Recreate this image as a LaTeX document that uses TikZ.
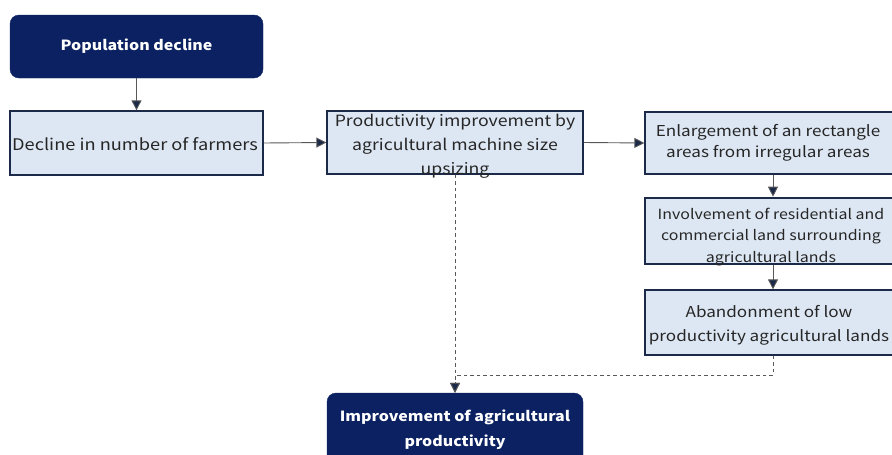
\documentclass[tikz,border=0pt]{standalone}
\usepackage{fontspec}
\setmainfont{Noto Sans CJK JP}[FakeStretch=1.14]
\usetikzlibrary{arrows.meta}
\definecolor{navy}{HTML}{0B2161}
\definecolor{lightfill}{HTML}{DDE7F3}
\definecolor{edge}{HTML}{1B2A48}
\tikzset{
  darkbox/.style={draw=navy,fill=navy,rounded corners=9pt,text=white,font=\fontsize{14}{25}\selectfont\bfseries,align=center,inner sep=0pt},
  lightbox/.style={draw=edge,fill=lightfill,line width=1.3pt,inner sep=0pt},
  txt/.style={text=black!85,align=center,inner sep=0pt,font=\fontsize{15.5}{24}\selectfont},
  conn/.style={draw=black!65,line width=0.9pt,-{Triangle[length=10pt,width=10pt,fill=edge]}},
  dconn/.style={conn,dashed,dash pattern=on 3.5pt off 3pt}
}
\begin{document}
\begin{tikzpicture}[x=1pt,y=-1pt]
\useasboundingbox[fill=white] (0,0) rectangle (892,455);
% boxes
\node[darkbox,minimum width=253,minimum height=63] (pop) at (136.5,46.5) {Population decline};
\node[lightbox,minimum width=253,minimum height=64] (dec) at (136.5,143) {};
\node[txt,font=\fontsize{16}{24}\selectfont] (dect) at (135,144) {Decline in number of farmers};
\node[lightbox,minimum width=256,minimum height=63] (prod) at (455,142.5) {};
\node[txt] (prodt) at (455,146) {Productivity improvement by\\agricultural machine size\\upsizing};
\node[lightbox,minimum width=250,minimum height=62] (enl) at (770,143) {};
\node[txt,font=\fontsize{15}{21}\selectfont] (enlt) at (768,143) {Enlargement of an rectangle\\areas from irregular areas};
\node[lightbox,line width=2.6pt,minimum width=250,minimum height=66] (inv) at (770,231) {};
\node[txt,font=\fontsize{14}{21.5}\selectfont] (invt) at (771,237) {Involvement of residential and\\commercial land surrounding\\agricultural lands};
\node[lightbox,minimum width=250,minimum height=65] (aba) at (770,322.5) {};
\node[txt,font=\fontsize{15}{24}\selectfont] (abat) at (769,325) {Abandonment of low\\productivity agricultural lands};
\node[darkbox,minimum width=256,minimum height=74] (imp) at (455,430) {Improvement of agricultural\\productivity};
\coordinate (corner) at (773,375);
% connectors
\draw[conn] (pop.south) -- (dec.north);
\draw[conn] (dec.east) -- (prod.west);
\draw[conn] (prod.east) -- (enl.west);
\draw[conn] (enl.south -| corner) -- (inv.north -| corner);
\draw[conn] (inv.south -| corner) -- (aba.north -| corner);
\draw[dconn] (prod.south) -- (imp.north);
\draw[dconn] (aba.south -| corner) -- (corner) -- (corner -| imp.north) -- (imp.north);
\end{tikzpicture}
\end{document}
